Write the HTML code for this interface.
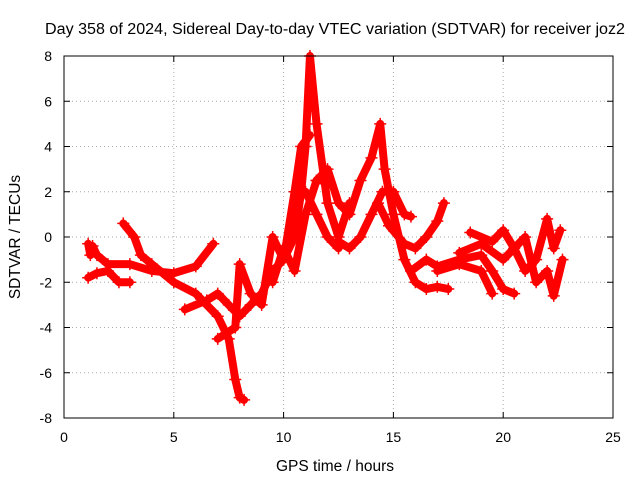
<!DOCTYPE html>
<html><head><meta charset="utf-8">
<style>
body{margin:0;background:#fff;}
svg{display:block;font-family:"Liberation Sans",sans-serif;}
</style></head>
<body>
<svg id="chart" width="640" height="480">
<rect width="640" height="480" fill="#fff"/>
<text x="45" y="34" font-size="15.5" textLength="580" lengthAdjust="spacingAndGlyphs">Day 358 of 2024, Sidereal Day-to-day VTEC variation (SDTVAR) for receiver joz2</text>
<text x="335" y="471" font-size="15.5" text-anchor="middle">GPS time / hours</text>
<text x="20" y="237" font-size="15.5" text-anchor="middle" transform="rotate(-90 20 237)">SDTVAR / TECUs</text>
<g id="grid"></g>
<g id="series"></g>
<rect x="64" y="56" width="549" height="362" fill="none" stroke="#000" stroke-width="1"/>
</svg>
<script>
const xTicks=[0,5,10,15,20,25];
const yTicks=[-8,-6,-4,-2,0,2,4,6,8];
const track1=[[1.1,-0.3],[1.2,-0.8],[1.3,-0.4],[1.5,-0.8],[2,-1.2],[3,-1.2],[4,-1.5],[5,-1.6],[6,-1.3],[6.8,-0.3]];
const track2=[[1.1,-1.8],[1.5,-1.6],[2,-1.5],[2.5,-2],[3,-2]];
const track3=[[2.7,0.6],[3.2,0],[3.5,-0.8],[4,-1.2],[5,-2],[6,-2.5],[7,-3.5],[7.5,-4.5],[7.8,-6.3],[8.0,-7.1],[8.2,-7.2]];
const track4=[[5.5,-3.2],[6.5,-2.8],[7,-2.5],[7.5,-3],[8,-3.5],[8.5,-3],[9,-2.5],[9.5,-1.5],[10,-1],[10.5,0],[10.8,2],[11,4],[11.2,8],[11.5,5],[12,1.5],[12.5,0],[13,1.5]];
const track5=[[7,-4.5],[7.8,-4],[8,-1.2],[8.5,-2.5],[9,-3],[9.5,0],[10,-1],[10.5,2],[10.8,4],[11.2,4.5]];
const track6=[[11.5,2.5],[12,3],[12.5,1.5],[13,1],[13.5,2.5],[14,3.5],[14.4,5],[14.6,3],[15,1],[15.5,-1],[16,-2],[16.5,-2.3],[17,-2.2],[17.5,-2.3]];
const track7=[[12.5,-0.2],[13,-0.5],[13.5,0],[14,1],[14.5,2],[15,2],[15.5,1],[15.8,0.9]];
const track8=[[14.3,1.5],[14.8,0.5],[15.5,-0.3],[16,-0.5],[16.5,0],[17,0.7],[17.3,1.5]];
const track9=[[11,2],[11.5,1],[12,0],[12.5,-0.5]];
const track10=[[15.8,-1.5],[16.5,-1],[17,-1.3],[18,-1],[19,-0.8],[19.5,-1.5],[20,-2.3],[20.5,-2.5]];
const track11=[[17,-1.5],[18,-1.2],[19,-1.5],[19.5,-2.5]];
const track12=[[18.5,0.2],[19.5,-0.2],[20,0.3],[20.5,-0.5],[21,-1.5],[21.5,-1],[22,0.8],[22.3,-0.5],[22.6,0.3]];
const track13=[[18,-0.7],[19,-0.3],[20,-1],[21,0],[21.5,-2],[22,-1.5],[22.3,-2.6],[22.7,-1]];
const track14=[[9.5,-2],[10,-0.5],[10.5,-1.5],[11,1],[11.5,2.5],[12,2.5]];
const tracks=[track1,track2,track3,track4,track5,track6,track7,track8,track9,track10,track11,track12,track13,track14];

const NS="http://www.w3.org/2000/svg";
const X0=64,X1=613,Y0=418,Y1=56;
function sx(v){return X0+(v-0)/(25-0)*(X1-X0);}
function sy(v){return Y0-(v+8)/16*(Y0-Y1);}
const grid=document.getElementById('grid');
function mk(tag,attrs,parent){const e=document.createElementNS(NS,tag);for(const k in attrs)e.setAttribute(k,attrs[k]);parent.appendChild(e);return e;}
xTicks.forEach(t=>{
  const x=sx(t);
  if(t>0&&t<25){const l=mk('line',{x1:x,x2:x,y1:Y1,y2:Y0,stroke:'#aaa','stroke-dasharray':'1,3'},grid);
  
  }
  mk('line',{x1:x,x2:x,y1:Y0,y2:Y0-6,stroke:'#000'},grid);
  mk('line',{x1:x,x2:x,y1:Y1,y2:Y1+6,stroke:'#000'},grid);
  const tx=mk('text',{x:x,y:Y0+24,'font-size':14,'text-anchor':'middle'},grid);
  tx.textContent=t;
  
  
});
yTicks.forEach(t=>{
  const y=sy(t);
  if(t>-8&&t<8){const l=mk('line',{x1:X0,x2:X1,y1:y,y2:y,stroke:'#aaa','stroke-dasharray':'1,3'},grid);
  
  }
  mk('line',{x1:X0,x2:X0+6,y1:y,y2:y,stroke:'#000'},grid);
  mk('line',{x1:X1,x2:X1-6,y1:y,y2:y,stroke:'#000'},grid);
  const tx=mk('text',{x:X0-12,y:y+5,'font-size':14,'text-anchor':'end'},grid);
  tx.textContent=t;
  
  
});
const ser=document.getElementById('series');
tracks.forEach((tr,i)=>{
  const g=mk('g',{},ser);
  
  
  mk('polyline',{points:tr.map(p=>sx(p[0])+','+sy(p[1])).join(' '),fill:'none',stroke:'#f00','stroke-width':8,'stroke-linejoin':'round','stroke-linecap':'round'},g);
  tr.forEach(p=>{
    const x=sx(p[0]),y=sy(p[1]);
    mk('path',{d:`M${x-6},${y}H${x+6}M${x},${y-6}V${y+6}`,stroke:'#f00','stroke-width':1.5},g);
  });
});
</script>
</body></html>
